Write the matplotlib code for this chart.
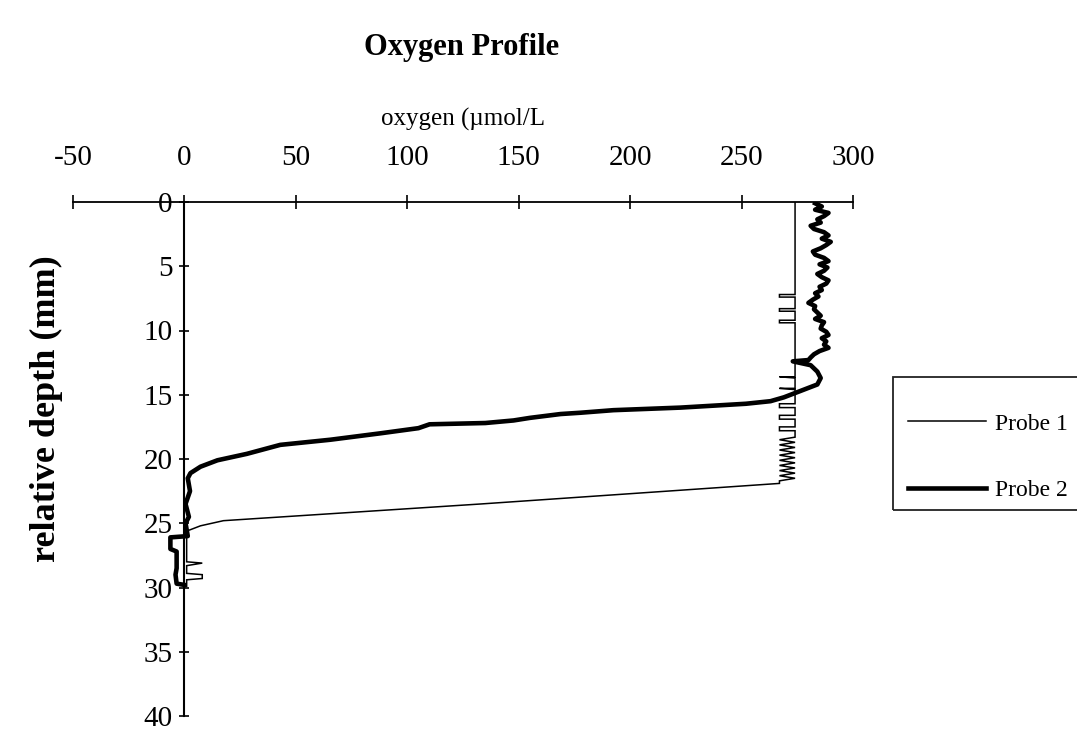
import matplotlib
matplotlib.use("Agg")
import matplotlib.pyplot as plt
from matplotlib.patches import Rectangle

plt.rcParams['font.family'] = ['Liberation Serif', 'DejaVu Serif']

# ---- data ----
x_ticks = [-50, 0, 50, 100, 150, 200, 250, 300]
y_ticks = [0, 5, 10, 15, 20, 25, 30, 35, 40]

probe1_depth = [
    0.0, 7.2, 7.2, 7.4, 7.4,
    8.3, 8.3, 8.5, 8.5, 9.2,
    9.2, 9.4, 9.4, 13.6, 13.6,
    13.7, 14.5, 14.5, 14.6, 15.7,
    15.7, 16.0, 16.0, 16.6, 16.6,
    16.9, 16.9, 17.5, 17.5, 17.8,
    17.8, 18.3, 18.5, 18.7, 18.9,
    19.1, 19.3, 19.5, 19.7, 19.9,
    20.1, 20.3, 20.5, 20.7, 20.9,
    21.1, 21.3, 21.5, 21.7, 21.9,
    23.5, 24.8, 25.2, 25.5, 25.6,
    28.0, 28.1, 28.3, 28.9, 29.0,
    29.3, 29.4, 29.9]
probe1_oxygen = [
    274, 274, 267, 267, 274,
    274, 267, 267, 274, 274,
    267, 267, 274, 274, 267,
    274, 274, 267, 274, 274,
    267, 267, 274, 274, 267,
    267, 274, 274, 267, 267,
    274, 274, 267, 274, 267,
    274, 267, 274, 267, 274,
    267, 274, 267, 274, 267,
    274, 267, 274, 267, 267,
    133, 17.5, 7.2, 2.7, 1,
    1, 8, 1, 1, 8,
    8, 1, 1]

probe2_depth = [
    0.1, 0.35, 0.6, 0.85, 1.1,
    1.35, 1.6, 1.85, 2.1, 2.35,
    2.6, 2.85, 3.1, 3.35, 3.6,
    3.85, 4.1, 4.35, 4.6, 4.85,
    5.1, 5.35, 5.6, 5.85, 6.1,
    6.35, 6.6, 6.85, 7.1, 7.35,
    7.6, 7.85, 8.1, 8.35, 8.6,
    8.85, 9.1, 9.35, 9.6, 9.85,
    10.1, 10.35, 10.6, 10.85, 11.1,
    11.35, 11.6, 11.85, 12.1, 12.3,
    12.4, 12.7, 13.2, 13.7, 14.2,
    14.7, 15.2, 15.5, 15.7, 16.0,
    16.2, 16.4, 16.5, 16.8, 17.0,
    17.2, 17.3, 17.6, 18.0, 18.5,
    18.9, 19.6, 20.1, 20.6, 21.1,
    21.5, 22.5, 23.5, 24.5, 25.0,
    26.0, 26.1, 27.0, 27.2, 28.5,
    29.0, 29.7, 29.8]
probe2_oxygen = [
    283, 286, 283, 289, 287,
    284, 285.5, 281, 282.5, 287,
    289, 286, 290, 288, 285.5,
    282, 283, 287, 289, 285,
    288.5, 287, 284, 286, 289,
    288, 285, 286, 283, 284.5,
    282, 280, 283, 282.5, 284,
    285.5, 283, 287, 286, 285.5,
    288, 289, 286, 288, 287,
    289, 285, 282.5, 281, 280,
    273, 281, 284, 285.5, 284,
    276.5, 269, 263, 252, 222.6,
    192.5, 177.7, 168.8, 155, 147.7,
    135, 110, 105, 88, 65.5,
    43, 28, 14.8, 7.2, 2.7,
    1.5, 2.5, 0.5, 2, 0.5,
    1.5, -6.3, -6.3, -3.5, -3.5,
    -4, -3.5, 0]

series_labels = ["Probe 1", "Probe 2"]
title_text = "Oxygen Profile"
xlabel_text = "oxygen (\u00b5mol/L"
ylabel_text = "relative depth (mm)"

# ---- figure ----
W, H = 1077, 734
fig = plt.figure(figsize=(W / 100, H / 100), dpi=100)
fig.patch.set_facecolor("white")

ax_l, ax_r, ax_t, ax_b = 73, 853, 202, 716
ax = fig.add_axes([ax_l / W, 1 - ax_b / H, (ax_r - ax_l) / W, (ax_b - ax_t) / H])

l1, = ax.plot(probe1_oxygen, probe1_depth, color="black", lw=1.1,
              solid_joinstyle="miter")
l2, = ax.plot(probe2_oxygen, probe2_depth, color="black", lw=3.3,
              solid_joinstyle="round")

ax.set_xlim(-50, 300)
ax.set_ylim(40, 0)
ax.set_xticks(x_ticks)
ax.set_yticks(y_ticks)
ax.set_xticklabels([str(v) for v in x_ticks])
ax.set_yticklabels([str(v) for v in y_ticks])

ax.xaxis.tick_top()
ax.xaxis.set_label_position("top")
for s in ("right", "bottom"):
    ax.spines[s].set_visible(False)
ax.spines["left"].set_position(("data", 0))
ax.spines["left"].set_linewidth(1.5)
ax.spines["top"].set_linewidth(1.3)

ax.tick_params(axis="x", direction="inout", length=10, width=1.2,
               labelsize=21, pad=17)
ax.tick_params(axis="y", direction="inout", length=7, width=1.2,
               labelsize=21, pad=5)

ax.set_xlabel(xlabel_text, fontsize=18, labelpad=14)

fig.text(462 / W, 1 - 48 / H, title_text, ha="center", va="center",
         fontsize=22, fontweight="bold")
fig.text(46 / W, 1 - 409 / H, ylabel_text, ha="center", va="center",
         rotation=90, fontsize=26, fontweight="bold")

# legend (frame runs off the right edge as in the reference)
fig.patches.append(Rectangle((893 / W, 1 - 510 / H), 200 / W, 133 / H,
                             transform=fig.transFigure, fill=False,
                             edgecolor="#222222", lw=1.3))
fig.legend([l1, l2], series_labels, loc="upper left",
           bbox_to_anchor=(908 / W, 1 - 413 / H), frameon=False,
           fontsize=17, handlelength=3.3, handletextpad=0.4,
           labelspacing=1.9, borderpad=0.0, borderaxespad=0.0)

fig.savefig("out.png", dpi=100, facecolor="white")
